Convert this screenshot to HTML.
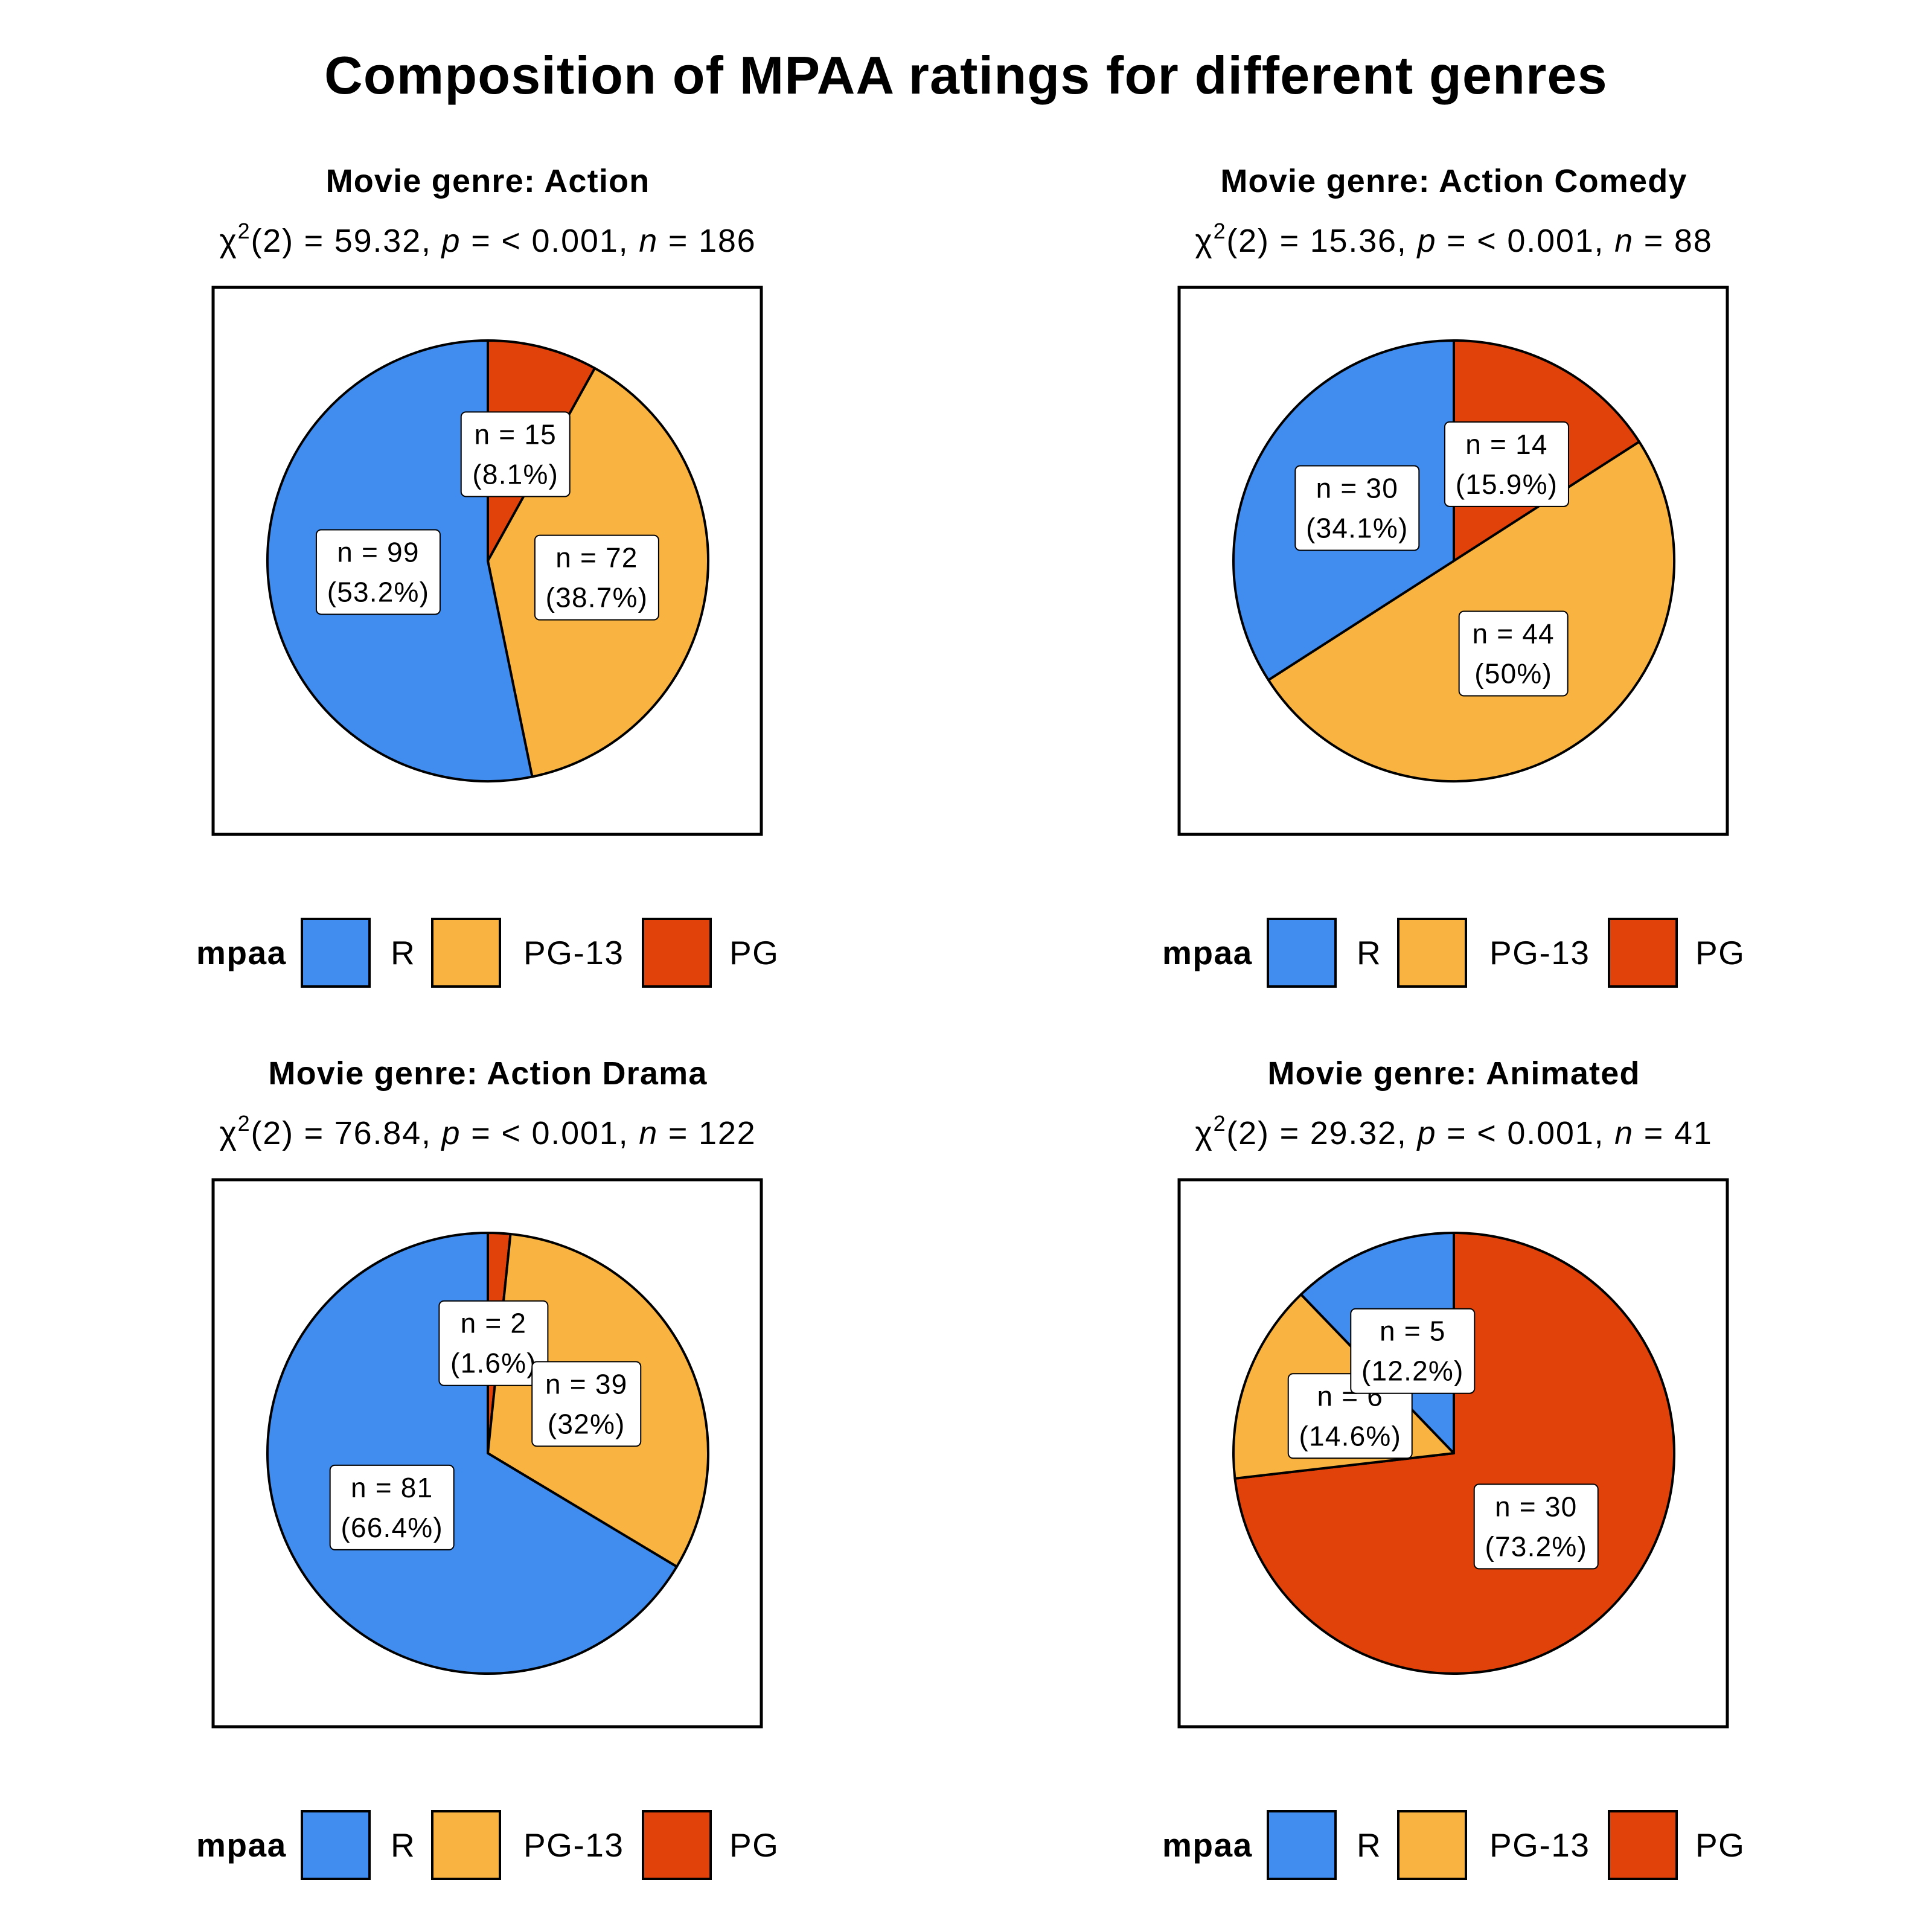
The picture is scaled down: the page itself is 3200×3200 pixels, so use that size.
<!DOCTYPE html>
<html><head><meta charset="utf-8"><style>
html,body{margin:0;padding:0;background:#fff}
svg{display:block;font-family:"Liberation Sans",Arial,sans-serif}
</style></head><body>
<svg id="chart" width="3200" height="3200" viewBox="0 0 3200 3200">
<text x="1600" y="155" text-anchor="middle" font-size="88" font-weight="bold" letter-spacing="1.2">Composition of MPAA ratings for different genres</text>
</svg>
<script>
const genres = ["Action", "Action Comedy", "Action Drama", "Animated"];
const stats = ["59.32", "15.36", "76.84", "29.32"];
const totals = [186, 88, 122, 41];
const categories = ["PG", "PG-13", "R"];
const pgCounts = [15, 14, 2, 30];
const pg13Counts = [72, 44, 39, 6];
const rCounts = [99, 30, 81, 5];
const pctLabels = [["8.1%","38.7%","53.2%"],["15.9%","50%","34.1%"],["1.6%","32%","66.4%"],["73.2%","14.6%","12.2%"]];
const colors = {"PG":"#E0420A","PG-13":"#F9B341","R":"#418DEF"};
const legendOrder = ["R","PG-13","PG"];

const NS="http://www.w3.org/2000/svg";
const svg=document.getElementById('chart');
function mk(tag,attrs,parent){const e=document.createElementNS(NS,tag);for(const k in attrs)e.setAttribute(k,attrs[k]);(parent||svg).appendChild(e);return e;}
const R=365;
genres.forEach((g,i)=>{
  const ox=(i%2)*1600, oy=Math.floor(i/2)*1478;
  const grp=mk('g',{});
  
  
  const t=mk('text',{x:808+ox,y:318+oy,'text-anchor':'middle','font-size':54,'font-weight':'bold','letter-spacing':1.2},grp);
  t.textContent='Movie genre: '+g;
  
  
  const st=mk('text',{x:808+ox,y:417+oy,'text-anchor':'middle','font-size':54,'letter-spacing':1.8},grp);
  st.innerHTML='χ<tspan dy="-22" font-size="36">2</tspan><tspan dy="22">(2) = '+stats[i]+', </tspan><tspan font-style="italic">p</tspan> = &lt; 0.001, <tspan font-style="italic">n</tspan> = '+totals[i];
  
  
  const box=mk('rect',{x:353+ox,y:476+oy,width:908,height:906,fill:'none',stroke:'#000','stroke-width':5},grp);
  
  
  const cx=808+ox, cy=929+oy;
  const counts=[pgCounts[i],pg13Counts[i],rCounts[i]];
  const tot=counts.reduce((a,b)=>a+b,0);
  let acc=0; const mids=[];
  counts.forEach((c,k)=>{
    const a0=acc/tot*2*Math.PI, a1=(acc+c)/tot*2*Math.PI; acc+=c;
    mids.push((a0+a1)/2);
    const x0=cx+R*Math.sin(a0), y0=cy-R*Math.cos(a0), x1=cx+R*Math.sin(a1), y1=cy-R*Math.cos(a1);
    const large=(a1-a0)>Math.PI?1:0;
    const p=mk('path',{d:`M${cx},${cy} L${x0},${y0} A${R},${R} 0 ${large} 1 ${x1},${y1} Z`,fill:colors[categories[k]],stroke:'#000','stroke-width':4,'stroke-linejoin':'round'},grp);
    
    
  });
  counts.forEach((c,k)=>{
    const lx=cx+R*0.5*Math.sin(mids[k]), ly=cy-R*0.5*Math.cos(mids[k]);
    const l1='n = '+c, l2='('+pctLabels[i][k]+')';
    const w=Math.max(l1.length,l2.length)*25+30;
    const lg=mk('g',{},grp);
    
    
    mk('rect',{x:lx-w/2,y:ly-70,width:w,height:140,rx:8,fill:'#fff',stroke:'#000','stroke-width':2},lg);
    const a=mk('text',{x:lx,y:ly-17,'text-anchor':'middle','font-size':46,'letter-spacing':1.2},lg);a.textContent=l1;
    const b=mk('text',{x:lx,y:ly+49,'text-anchor':'middle','font-size':46,'letter-spacing':1.2},lg);b.textContent=l2;
  });
  const leg=mk('g',{},grp);
  
  
  const ly=1578+oy;
  const lt=mk('text',{x:325+ox,y:ly+19,'font-size':55,'font-weight':'bold','letter-spacing':1.5},leg);lt.textContent='mpaa';
  const keyX=[500,716,1065], txtX=[647,867,1208];
  legendOrder.forEach((c,k)=>{
    const r=mk('rect',{x:keyX[k]+ox,y:ly-56,width:112,height:112,fill:colors[c],stroke:'#000','stroke-width':4},leg);
    
    
    const tx=mk('text',{x:txtX[k]+ox,y:ly+19,'font-size':55,'letter-spacing':1.5},leg);tx.textContent=c;
    
    
  });
});
</script>
</body></html>
